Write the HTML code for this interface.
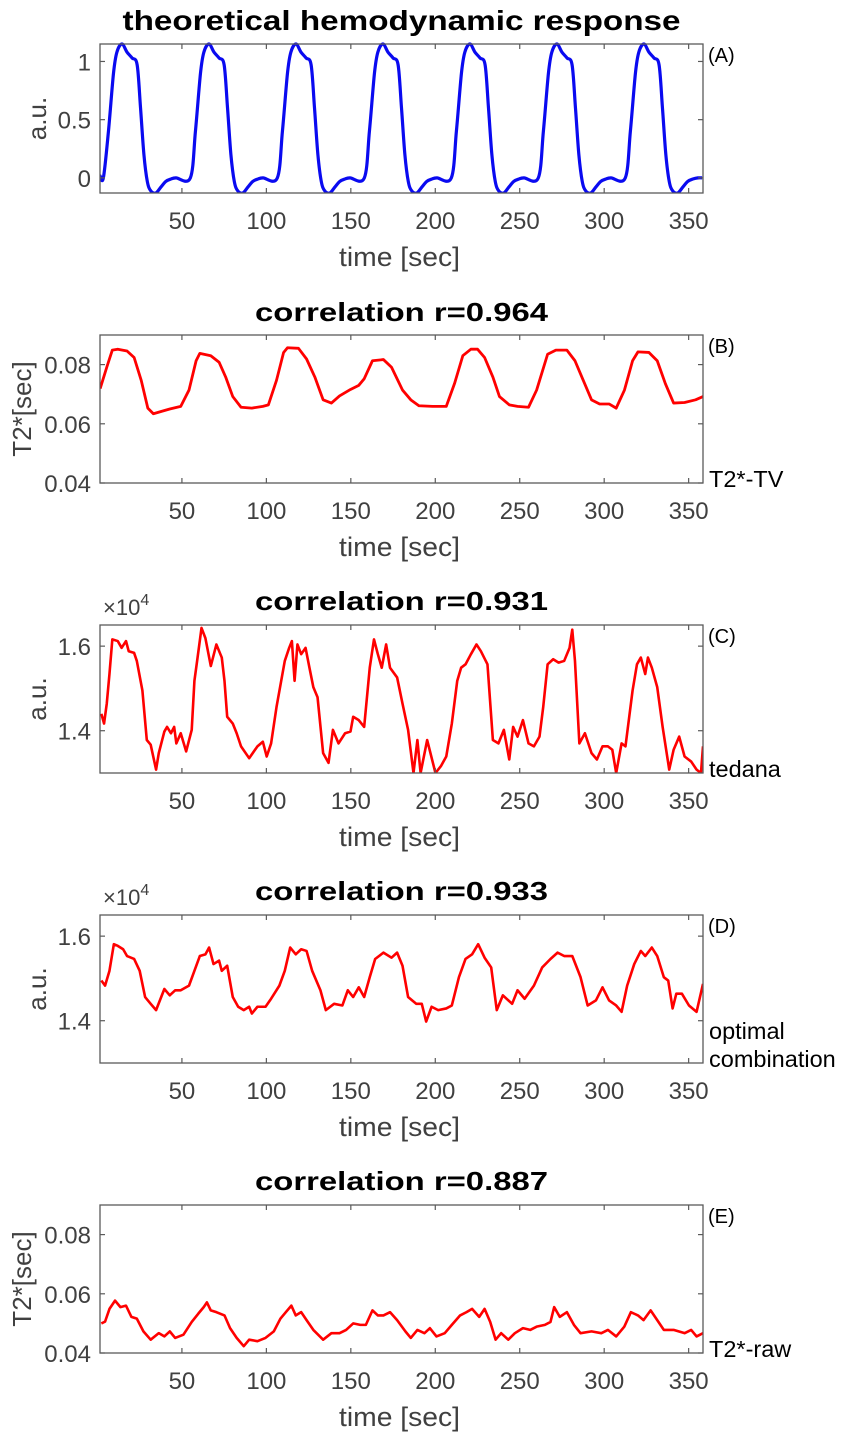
<!DOCTYPE html>
<html><head><meta charset="utf-8">
<style>
html,body{margin:0;padding:0;background:#fff;}
svg{display:block;font-family:"Liberation Sans",Arial,sans-serif;}
</style></head>
<body>
<svg id="fig" width="851" height="1439" viewBox="0 0 851 1439" xmlns="http://www.w3.org/2000/svg"></svg>
<script>
// ---------- DATA ----------
const xTicks = [50,100,150,200,250,300,350];

const timeA = [1.5,3.5,6.5,9.5,11.5,14.5,17.5,20.5,23.5,25.5,27.5,29.5,31.5,34.5,37.5,40.5,43.5,46.5,
55,58,61,63,66,69,72,75,77,79,81,83,86,89,92,95,98,
106.5,109.5,112.5,114.5,117.5,120.5,123.5,126.5,128.5,130.5,132.5,134.5,137.5,140.5,143.5,146.5,149.5,
158,161,164,166,169,172,175,178,180,182,184,186,189,192,195,198,201,
209.5,212.5,215.5,217.5,220.5,223.5,226.5,229.5,231.5,233.5,235.5,237.5,240.5,243.5,246.5,249.5,252.5,
261,264,267,269,272,275,278,281,283,285,287,289,292,295,298,301,304,
312.5,315.5,318.5,320.5,323.5,326.5,329.5,332.5,334.5,336.5,338.5,340.5,343.5,346.5,349.5,352.5,355.5,358];
const valuesA = [0.02,0,0.4,0.9,1.08,1.15,1.08,1.03,0.97,0.6,0.2,-0.03,-0.11,-0.13,-0.08,-0.03,-0.01,0,
0,0.4,0.9,1.08,1.15,1.08,1.03,0.97,0.6,0.2,-0.03,-0.11,-0.13,-0.08,-0.03,-0.01,0,
0,0.4,0.9,1.08,1.15,1.08,1.03,0.97,0.6,0.2,-0.03,-0.11,-0.13,-0.08,-0.03,-0.01,0,
0,0.4,0.9,1.08,1.15,1.08,1.03,0.97,0.6,0.2,-0.03,-0.11,-0.13,-0.08,-0.03,-0.01,0,
0,0.4,0.9,1.08,1.15,1.08,1.03,0.97,0.6,0.2,-0.03,-0.11,-0.13,-0.08,-0.03,-0.01,0,
0,0.4,0.9,1.08,1.15,1.08,1.03,0.97,0.6,0.2,-0.03,-0.11,-0.13,-0.08,-0.03,-0.01,0,
0,0.4,0.9,1.08,1.15,1.08,1.03,0.97,0.6,0.2,-0.03,-0.11,-0.13,-0.08,-0.03,-0.01,0,0];

const timeB = [1.6,5.5,8.8,12,17.5,21.7,25.9,29.8,33.1,37.9,42.8,49.3,54.2,58.4,60.6,67.1,72,75.9,80.1,85,91.4,97.9,101.2,106,110.2,112.5,119,123.8,128.7,133.6,138.5,143.3,149.8,154.7,157.9,162.8,169.3,174.1,180.6,185.5,190.3,198.4,206.5,211.4,216.3,221.1,225,229.2,234.1,238,243.8,248.7,255.2,260,266.5,271.4,277.9,282.7,287.6,292.5,297.3,302.9,307.1,312,316.8,320,326.5,331.4,336.2,341.1,347.6,354.1,358.5];
const valuesB = [0.0719,0.0791,0.0849,0.0852,0.0846,0.0824,0.0747,0.0653,0.0634,0.0642,0.0650,0.0659,0.0714,0.0813,0.0838,0.0830,0.0808,0.0758,0.0692,0.0656,0.0653,0.0659,0.0664,0.0747,0.0841,0.0857,0.0855,0.0819,0.0758,0.0681,0.0670,0.0694,0.0716,0.0730,0.0752,0.0813,0.0817,0.0791,0.0714,0.0681,0.0661,0.0659,0.0659,0.0736,0.0830,0.0852,0.0852,0.0824,0.0758,0.0692,0.0664,0.0659,0.0656,0.0714,0.0835,0.0849,0.0849,0.0813,0.0747,0.0681,0.0667,0.0667,0.0653,0.0714,0.0813,0.0843,0.0841,0.0813,0.0736,0.0670,0.0672,0.0681,0.0692];

const timeC = [2.3,3.9,5.5,7.1,8.8,12,14.3,16.9,18.5,21.7,23.3,26.6,29.2,31.5,34.7,36.3,39.6,41.2,43.5,45.4,46.7,49.3,52.5,55.8,57.4,59,61.6,63.9,67.1,70.4,73.6,75.2,76.8,80.1,82.4,85,89.8,94.7,97.9,100.2,102.8,106,110.9,113.5,115.1,116.7,118.4,120.6,123.2,125.5,127.8,130.3,133.6,136.8,139.4,142.7,146.6,149.8,151.4,154.7,157.9,161.2,163.7,166,168.3,170.9,173.2,177.4,180.6,183.9,187.1,189.4,191.3,195.2,200.1,203.3,206.5,209.8,213,215.3,217.9,221.1,224.4,227,230.9,234.1,237.4,240.6,243.8,246.1,248.7,251.9,255.2,258.4,261.7,263.9,266.5,269.8,273,276.3,279.5,281.1,282.7,285.3,288.6,292.5,295.7,299,302.2,304.8,307.1,310.3,312.6,316.8,319.4,321.7,324.3,325.9,328.2,331.4,334.6,338.5,341.1,344.4,347.6,351.5,354.7,357.3,358.5];
const valuesC = [1.440,1.417,1.464,1.534,1.616,1.612,1.596,1.612,1.588,1.584,1.565,1.495,1.378,1.367,1.308,1.347,1.398,1.409,1.394,1.409,1.370,1.394,1.351,1.402,1.518,1.565,1.643,1.619,1.553,1.604,1.573,1.518,1.433,1.417,1.394,1.363,1.335,1.363,1.374,1.339,1.370,1.456,1.565,1.596,1.612,1.518,1.604,1.581,1.596,1.549,1.503,1.479,1.347,1.324,1.402,1.370,1.394,1.398,1.433,1.425,1.409,1.549,1.616,1.581,1.549,1.604,1.549,1.526,1.464,1.402,1.300,1.378,1.300,1.378,1.300,1.316,1.339,1.417,1.518,1.549,1.557,1.581,1.604,1.588,1.557,1.378,1.370,1.402,1.332,1.409,1.386,1.425,1.370,1.363,1.386,1.456,1.557,1.569,1.561,1.565,1.596,1.639,1.565,1.370,1.394,1.347,1.332,1.363,1.363,1.355,1.300,1.370,1.363,1.495,1.557,1.573,1.534,1.573,1.549,1.503,1.409,1.308,1.355,1.386,1.339,1.327,1.308,1.300,1.363];

const timeD = [2.3,4.5,7.1,9.7,12,15.2,17.5,21.7,25,28.2,31.5,34.7,39.6,42.8,46,49.3,54.2,57.4,60.6,63.9,66.1,68.7,72,73.6,76.8,80.1,83.3,86.6,89.8,91.4,94.7,99.5,102.8,107.7,110.9,114.1,117.4,120.6,123.8,127.1,132,135.2,140.1,145,148.2,151.4,154.7,157.9,161.2,164.4,169.3,174.1,177.4,180.6,183.9,188.7,192,194.6,197.8,201.7,206.5,209.8,214,217.9,221.8,225.4,229.2,233.1,236.4,240,245.5,248.7,252.9,258.4,263.3,268.2,272.4,276.3,281.1,286,290.2,295.1,299,302.9,307.1,310.3,313.6,317.8,321.7,324.3,328.2,331.4,335.3,337.9,340.5,342.7,346,350.2,354.7,358.5];
const valuesD = [1.495,1.483,1.518,1.581,1.577,1.569,1.553,1.546,1.518,1.456,1.440,1.425,1.475,1.460,1.472,1.472,1.483,1.518,1.553,1.557,1.573,1.534,1.542,1.518,1.530,1.456,1.433,1.425,1.433,1.417,1.433,1.433,1.452,1.483,1.518,1.573,1.557,1.569,1.565,1.518,1.472,1.425,1.440,1.436,1.472,1.456,1.479,1.456,1.503,1.546,1.561,1.549,1.561,1.530,1.456,1.440,1.440,1.398,1.433,1.425,1.429,1.436,1.503,1.546,1.557,1.581,1.549,1.526,1.425,1.460,1.440,1.472,1.452,1.483,1.526,1.546,1.561,1.553,1.553,1.503,1.436,1.448,1.479,1.448,1.436,1.421,1.483,1.534,1.565,1.553,1.573,1.553,1.503,1.495,1.429,1.464,1.464,1.436,1.421,1.487];

const timeE = [2.3,4.5,7.1,10.4,13.6,16.9,20.1,23.3,27.2,31.5,36.3,39.6,42.8,46,50.9,55.8,59.7,62.9,64.8,67.1,70.4,75.2,78.5,82.4,86.6,89.8,94.7,99.5,104.4,108.3,111.5,114.8,117.4,120.6,123.8,127.8,133.6,138.5,143.3,147.2,151.4,155.6,158.9,162.8,166,169.3,173.2,177.4,182.3,185.5,189.4,193.6,196.8,200.7,205.6,209.8,214.7,218.5,221.8,226,229.2,232.5,235.7,239,243.2,247.1,251.9,256.2,260,264.9,268.2,270.4,273.7,277.9,282.1,286,292.5,298.3,302.2,307.1,311.9,315.8,320,323.3,327.5,331.4,335.3,341.1,347.6,351.5,354.7,358.5];
const valuesE = [0.0500,0.0506,0.0549,0.0577,0.0555,0.0560,0.0522,0.0516,0.0473,0.0445,0.0467,0.0456,0.0473,0.0451,0.0462,0.0505,0.0533,0.0555,0.0571,0.0544,0.0538,0.0527,0.0484,0.0451,0.0423,0.0445,0.0440,0.0451,0.0473,0.0516,0.0538,0.0560,0.0527,0.0538,0.0511,0.0478,0.0445,0.0467,0.0467,0.0478,0.0500,0.0495,0.0495,0.0544,0.0527,0.0527,0.0538,0.0511,0.0473,0.0451,0.0478,0.0467,0.0484,0.0456,0.0467,0.0495,0.0527,0.0538,0.0549,0.0522,0.0549,0.0505,0.0445,0.0467,0.0445,0.0467,0.0484,0.0478,0.0489,0.0495,0.0505,0.0555,0.0522,0.0538,0.0495,0.0467,0.0473,0.0467,0.0478,0.0456,0.0489,0.0538,0.0527,0.0511,0.0544,0.0511,0.0478,0.0478,0.0467,0.0478,0.0456,0.0467];

const ticksA = [0,0.5,1];
const tickLabelsA = ["0","0.5","1"];
const ticksT2 = [0.04,0.06,0.08];
const tickLabelsT2 = ["0.04","0.06","0.08"];
const ticksSig = [1.4,1.6];
const tickLabelsSig = ["1.4","1.6"];

// ---------- LAYOUT ----------
const NS = "http://www.w3.org/2000/svg";
const svg = document.getElementById('fig');
const X0 = 100, X1 = 703, XMIN = 1.5, XMAX = 358.5;
function xs(t){ return X0 + (t - XMIN) / (XMAX - XMIN) * (X1 - X0); }
function mk(tag, attrs, parent){
  const e = document.createElementNS(NS, tag);
  for (const k in attrs) e.setAttribute(k, attrs[k]);
  (parent || svg).appendChild(e);
  return e;
}
function txt(s, attrs, parent){ const e = mk('text', attrs, parent); e.textContent = s; return e; }

const panels = [
  {id:'a', top:44, bot:193, ymin:-0.13, ymax:1.15, t:timeA, v:valuesA, ticks:ticksA, labels:tickLabelsA, color:'#0a0af0', lw:3.2, smooth:true,
   title:'theoretical hemodynamic response', titleY:30, titleSize:28, titleW:558, ylab:'a.u.', ylabX:37, tag:'(A)', side:[]},
  {id:'b', top:335, bot:483, ymin:0.04, ymax:0.09, t:timeB, v:valuesB, ticks:ticksT2, labels:tickLabelsT2, color:'#ff0000', lw:2.8,
   title:'correlation r=0.964', titleY:321, titleSize:26, titleW:293, ylab:'T2*[sec]', ylabX:22, tag:'(B)', side:['T2*-TV']},
  {id:'c', top:625, bot:773, ymin:1.3, ymax:1.65, t:timeC, v:valuesC, ticks:ticksSig, labels:tickLabelsSig, color:'#ff0000', lw:2.6,
   title:'correlation r=0.931', titleY:610, titleSize:26, titleW:293, ylab:'a.u.', ylabX:37, tag:'(C)', side:['tedana'], exp:true},
  {id:'d', top:915, bot:1063, ymin:1.3, ymax:1.65, t:timeD, v:valuesD, ticks:ticksSig, labels:tickLabelsSig, color:'#ff0000', lw:2.6,
   title:'correlation r=0.933', titleY:900, titleSize:26, titleW:293, ylab:'a.u.', ylabX:37, tag:'(D)', side:['optimal','combination'], exp:true},
  {id:'e', top:1205, bot:1353, ymin:0.04, ymax:0.09, t:timeE, v:valuesE, ticks:ticksT2, labels:tickLabelsT2, color:'#ff0000', lw:2.6,
   title:'correlation r=0.887', titleY:1190, titleSize:26, titleW:293, ylab:'T2*[sec]', ylabX:22, tag:'(E)', side:['T2*-raw']}
];

panels.forEach(p => {
  const g = mk('g', {});
  
  
  const ys = v => p.bot - (v - p.ymin) / (p.ymax - p.ymin) * (p.bot - p.top);

  const tt = txt(p.title, {x:(X0+X1)/2, y:p.titleY, 'text-anchor':'middle', 'font-size':p.titleSize, 'font-weight':'bold', fill:'#000', textLength:p.titleW, lengthAdjust:'spacingAndGlyphs'}, g);
  
  

  const cp = mk('clipPath', {id:'clip-' + p.id}, g);
  mk('rect', {x:X0, y:p.top-3, width:X1-X0, height:p.bot-p.top+3}, cp);

  const pts = p.t.map((t, i) => [xs(t), ys(p.v[i])]);
  let d = 'M' + pts[0][0].toFixed(2) + ',' + pts[0][1].toFixed(2);
  if (p.smooth) {
    for (let i = 0; i < pts.length - 1; i++) {
      const p0 = pts[i-1] || pts[i], p1 = pts[i], p2 = pts[i+1], p3 = pts[i+2] || p2;
      const c1x = p1[0] + (p2[0]-p0[0])/6, c1y = p1[1] + (p2[1]-p0[1])/6;
      const c2x = p2[0] - (p3[0]-p1[0])/6, c2y = p2[1] - (p3[1]-p1[1])/6;
      d += 'C' + c1x.toFixed(2) + ',' + c1y.toFixed(2) + ' ' + c2x.toFixed(2) + ',' + c2y.toFixed(2) + ' ' + p2[0].toFixed(2) + ',' + p2[1].toFixed(2);
    }
  } else {
    for (let i = 1; i < pts.length; i++) d += 'L' + pts[i][0].toFixed(2) + ',' + pts[i][1].toFixed(2);
  }
  const line = mk('path', {d:d, fill:'none', stroke:p.color, 'stroke-width':p.lw, 'stroke-linejoin':'round', 'clip-path':'url(#clip-' + p.id + ')'}, g);
  
  

  const box = mk('rect', {x:X0, y:p.top, width:X1-X0, height:p.bot-p.top, fill:'none', stroke:'#5a5a5a', 'stroke-width':1.3}, g);
  
  

  xTicks.forEach(v => {
    const x = xs(v);
    mk('line', {x1:x, x2:x, y1:p.bot, y2:p.bot-5, stroke:'#5a5a5a', 'stroke-width':1.2}, g);
    mk('line', {x1:x, x2:x, y1:p.top, y2:p.top+5, stroke:'#5a5a5a', 'stroke-width':1.2}, g);
    const lb = txt(String(v), {x:x, y:p.bot+36, 'text-anchor':'middle', 'font-size':24, fill:'#404040'}, g);
    
    
  });
  const xl = txt('time [sec]', {x:(X0+X1)/2 - 2, y:p.bot+73, 'text-anchor':'middle', 'font-size':27, fill:'#404040', textLength:121, lengthAdjust:'spacingAndGlyphs'}, g);
  
  

  p.ticks.forEach((v, i) => {
    const y = ys(v);
    mk('line', {x1:X0, x2:X0+5, y1:y, y2:y, stroke:'#5a5a5a', 'stroke-width':1.2}, g);
    mk('line', {x1:X1, x2:X1-5, y1:y, y2:y, stroke:'#5a5a5a', 'stroke-width':1.2}, g);
    const lb = txt(p.labels[i], {x:91, y:y+9, 'text-anchor':'end', 'font-size':24, fill:'#404040'}, g);
    
    
  });
  const cy = (p.top + p.bot) / 2;
  const yl = txt(p.ylab, {x:p.ylabX, y:cy, 'text-anchor':'middle', 'font-size':26, fill:'#404040', transform:'rotate(-90 ' + p.ylabX + ' ' + cy + ')', dy:9}, g);
  
  

  if (p.exp) {
    const ex = txt('', {x:103, y:p.top-10, 'font-size':22, fill:'#404040'}, g);
    
    
    const s1 = mk('tspan', {}, ex); s1.textContent = '\u00d710';
    const s2 = mk('tspan', {dy:-10, 'font-size':16}, ex); s2.textContent = '4';
  }

  const tg = txt(p.tag, {x:708, y:p.top+18, 'font-size':20, fill:'#000'}, g);
  
  

  p.side.forEach((s, i) => {
    const n = p.side.length;
    const sl = txt(s, {x:709, y:p.bot + 4 - (n - 1 - i) * 28, 'font-size':23.5, fill:'#000'}, g);
    
    
  });
});
</script>
</body></html>
